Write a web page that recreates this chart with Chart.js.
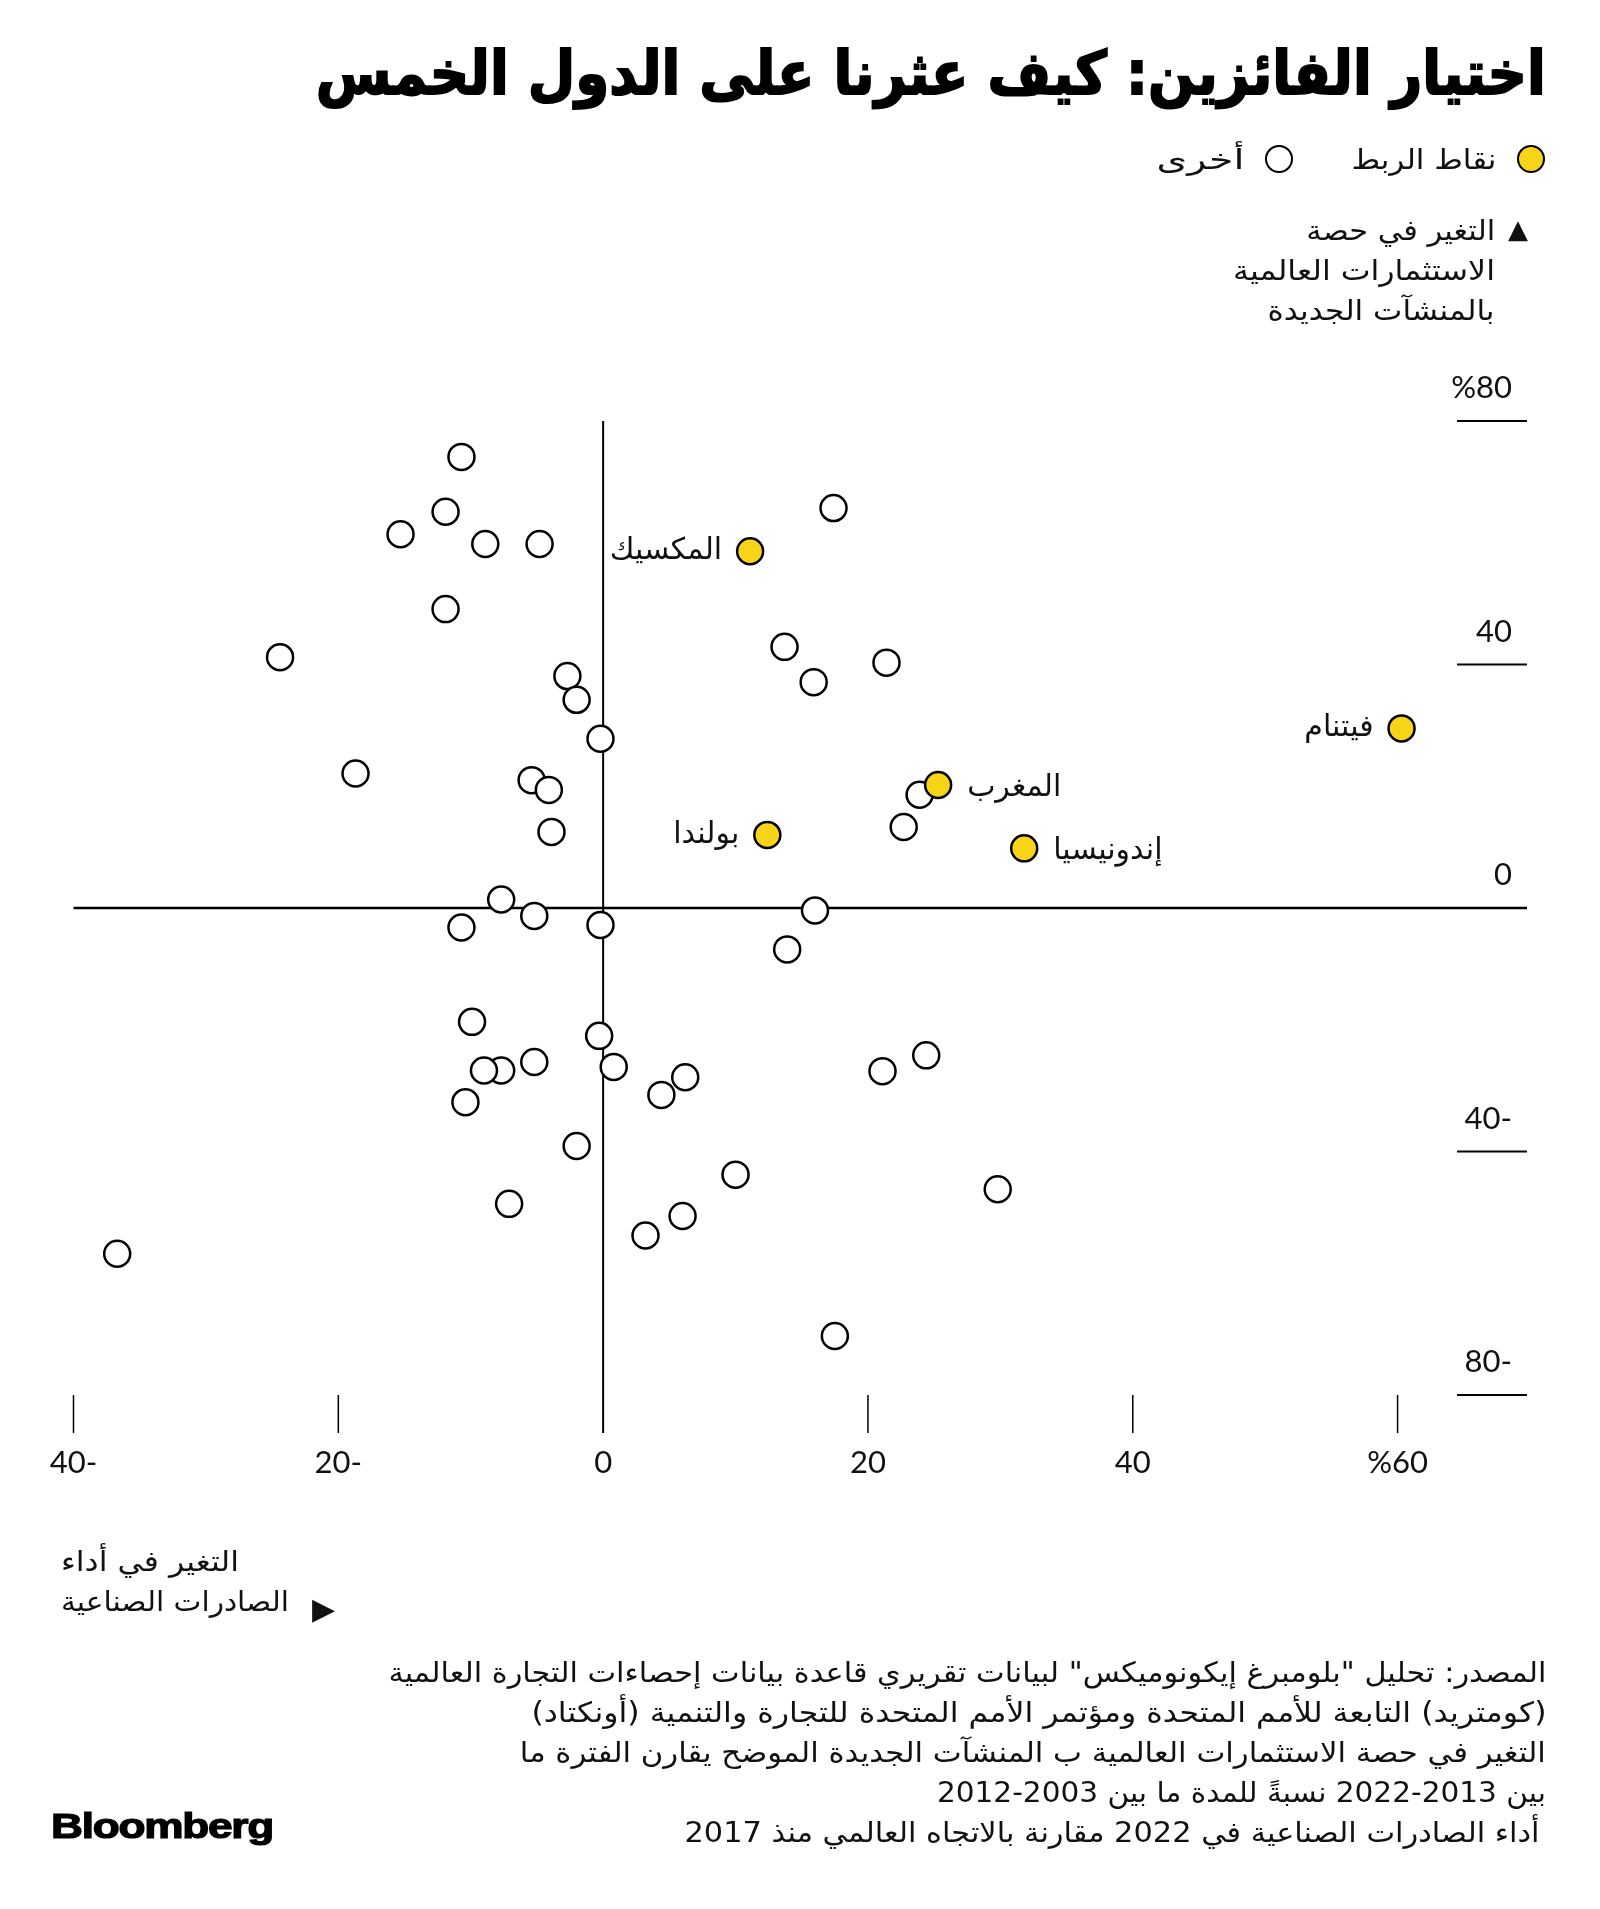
<!DOCTYPE html>
<html lang="ar">
<head>
<meta charset="utf-8">
<script src="https://cdn.jsdelivr.net/npm/chart.js@4.4.1/dist/chart.umd.min.js"></script>
<style>
  html, body { margin: 0; padding: 0; background: #fff; }
  body { width: 1600px; height: 1909px; position: relative; overflow: hidden; font-family: "DejaVu Sans", sans-serif; color: #111; }
  canvas { position: absolute; left: 0; top: 0; }
  .t { position: absolute; white-space: nowrap; direction: rtl; line-height: 40px; font-size: 28px; }
  .r { transform-origin: right center; }
  .l { transform-origin: left center; }
  .dot { position: absolute; border-radius: 50%; border: 2px solid #000; box-sizing: border-box; }
</style>
</head>
<body>
<canvas id="chart" width="1600" height="1909"></canvas>

<div class="t r fit" data-w="1230" style="right:54px; top:33px; font-size:60px; line-height:80px; font-weight:bold; -webkit-text-stroke:2px #000; color:#000;">اختيار الفائزين: كيف عثرنا على الدول الخمس</div>

<div class="dot" style="left:1517px; top:145px; width:28px; height:28px; background:#f7d417;"></div>
<div class="t r fit" data-w="145" style="right:104px; top:140px;">نقاط الربط</div>
<div class="dot" style="left:1265px; top:145px; width:28px; height:28px; background:#fff;"></div>
<div class="t r fit" data-w="88" style="right:356px; top:140px;">أخرى</div>

<div style="position:absolute; left:1508px; top:214px; font-size:26px; line-height:30px;">▲</div>
<div class="t r fit" data-w="189" style="right:105px; top:211px;">التغير في حصة</div>
<div class="t r fit" data-w="262" style="right:105px; top:251px;">الاستثمارات العالمية</div>
<div class="t r fit" data-w="227" style="right:105px; top:291px;">بالمنشآت الجديدة</div>

<div class="t l fit" data-w="178" style="left:61px; top:1542px;">التغير في أداء</div>
<div class="t l fit" data-w="228" style="left:61px; top:1582px;">الصادرات الصناعية</div>
<div style="position:absolute; left:312px; top:1592px; font-size:30px; line-height:34px;">▶</div>

<div class="t r fit" data-w="1158" style="right:54px; top:1653px;">المصدر: تحليل "بلومبرغ إيكونوميكس" لبيانات تقريري قاعدة بيانات إحصاءات التجارة العالمية</div>
<div class="t r fit" data-w="1015" style="right:54px; top:1693px;">(كومتريد) التابعة للأمم المتحدة ومؤتمر الأمم المتحدة للتجارة والتنمية (أونكتاد)</div>
<div class="t r fit" data-w="1026" style="right:54px; top:1733px;">التغير في حصة الاستثمارات العالمية ب المنشآت الجديدة الموضح يقارن الفترة ما</div>
<div class="t r fit" data-w="609" style="right:54px; top:1773px;">بين 2013-2022 نسبةً للمدة ما بين 2003-2012</div>
<div class="t r fit" data-w="855" style="right:61px; top:1813px;">أداء الصادرات الصناعية في 2022 مقارنة بالاتجاه العالمي منذ 2017</div>

<div class="t l fit" data-w="222" style="left:51px; top:1806px; direction:ltr; font-family:'Liberation Sans', Arial, sans-serif; font-weight:bold; font-size:35px; letter-spacing:-1px; -webkit-text-stroke:1.2px #000; color:#000;">Bloomberg</div>

<script>
// "linking" economies (yellow) and the rest (white)
const linkNames = ['المكسيك', 'فيتنام', 'المغرب', 'بولندا', 'إندونيسيا'];
const linkX = [11.1, 60.3, 25.3, 12.4, 31.8];
const linkY = [58.6, 29.5, 20.2, 12.0, 9.8];

const otherX = [-10.7, -11.9, -15.3, -8.9, -4.8, 17.4, -11.9, -24.4, 13.7, 21.4,
  -2.7, -2.0, 15.9, -0.2, -18.7, -5.4, -4.1, -3.9, 23.9, 22.7,
  -7.7, -5.2, -10.7, -0.2, 16.0, 13.9, -9.9, -0.3, -5.2, -7.7,
  -9.0, 0.8, 6.2, 4.4, -10.4, 21.1, 24.4, -2.0, 10.0, -7.1,
  6.0, 3.2, -36.7, 29.8, 17.5];
const otherY = [74.1, 65.1, 61.4, 59.8, 59.8, 65.7, 49.1, 41.2, 42.9, 40.3,
  38.1, 34.2, 37.1, 27.8, 22.1, 21.0, 19.4, 12.5, 18.6, 13.3,
  1.4, -1.3, -3.2, -2.8, -0.4, -6.8, -18.7, -21.0, -25.3, -26.7,
  -26.7, -26.1, -27.8, -30.7, -31.9, -26.8, -24.2, -39.1, -43.8, -48.6,
  -50.6, -53.8, -56.8, -46.2, -70.3];

const xTicks = [-40, -20, 0, 20, 40, 60];
const xTickLabels = ['40-', '20-', '0', '20', '40', '%60'];
const yTicks = [80, 40, 0, -40, -80];
const yTickLabels = ['%80', '40', '0', '40-', '80-'];

const toPoints = (xs, ys) => xs.map((x, i) => ({ x: x, y: ys[i] }));

// which side of the dot each country name sits on
const labelSide = { 'المكسيك': 'left', 'فيتنام': 'left', 'بولندا': 'left', 'المغرب': 'right', 'إندونيسيا': 'right' };

const axesPlugin = {
  id: 'axesPlugin',
  beforeDatasetsDraw(chart) {
    const { ctx, chartArea } = chart;
    const xs = chart.scales.x, ys = chart.scales.y;
    const x0 = xs.getPixelForValue(0), y0 = ys.getPixelForValue(0);
    const yBottom = ys.getPixelForValue(-80);
    const right = chartArea.right - 3;
    ctx.save();
    ctx.strokeStyle = '#000';
    // zero lines
    ctx.lineWidth = 2.5;
    ctx.beginPath();
    ctx.moveTo(xs.getPixelForValue(-40), y0);
    ctx.lineTo(right, y0);
    ctx.stroke();
    ctx.lineWidth = 2;
    ctx.beginPath();
    ctx.moveTo(x0, ys.getPixelForValue(80));
    ctx.lineTo(x0, yBottom + 38);
    ctx.stroke();
    // x ticks
    ctx.lineWidth = 1.5;
    xTicks.forEach(v => {
      if (v === 0) return;
      const px = xs.getPixelForValue(v);
      ctx.beginPath();
      ctx.moveTo(px, yBottom);
      ctx.lineTo(px, yBottom + 38);
      ctx.stroke();
    });
    // y ticks, short lines at the right
    ctx.lineWidth = 2;
    yTicks.forEach(v => {
      if (v === 0) return;
      const py = ys.getPixelForValue(v);
      ctx.beginPath();
      ctx.moveTo(right - 70, py);
      ctx.lineTo(right, py);
      ctx.stroke();
    });
    ctx.restore();
  },
  afterDatasetsDraw(chart) {
    const { ctx, chartArea } = chart;
    const xs = chart.scales.x, ys = chart.scales.y;
    const yBottom = ys.getPixelForValue(-80);
    ctx.save();
    ctx.fillStyle = '#111';
    ctx.font = '31px Lato, "DejaVu Sans", sans-serif';
    ctx.direction = 'ltr';
    ctx.textBaseline = 'middle';
    ctx.textAlign = 'right';
    yTicks.forEach((v, i) => {
      ctx.fillText(yTickLabels[i], chartArea.right - 18, ys.getPixelForValue(v) - 33);
    });
    ctx.textAlign = 'center';
    xTicks.forEach((v, i) => {
      ctx.fillText(xTickLabels[i], xs.getPixelForValue(v), yBottom + 68);
    });
    // country names
    ctx.font = '30px "DejaVu Sans", sans-serif';
    ctx.direction = 'rtl';
    linkNames.forEach((name, i) => {
      const px = xs.getPixelForValue(linkX[i]);
      const py = ys.getPixelForValue(linkY[i]);
      if (labelSide[name] === 'left') {
        ctx.textAlign = 'right';
        ctx.fillText(name, px - 28, py);
      } else {
        ctx.textAlign = 'left';
        ctx.fillText(name, px + 29, py + 3);
      }
    });
    ctx.restore();
  }
};

new Chart(document.getElementById('chart'), {
  type: 'scatter',
  data: {
    datasets: [
      {
        label: 'نقاط الربط',
        data: toPoints(linkX, linkY),
        backgroundColor: '#f7d417',
        borderColor: '#000',
        borderWidth: 2.5,
        pointRadius: 13,
        clip: false
      },
      {
        label: 'أخرى',
        data: toPoints(otherX, otherY),
        backgroundColor: '#fff',
        borderColor: '#000',
        borderWidth: 2.5,
        pointRadius: 13,
        clip: false
      }
    ]
  },
  options: {
    responsive: false,
    animation: false,
    events: [],
    layout: { padding: { left: 73.5, right: 70, top: 421, bottom: 514 } },
    plugins: { legend: { display: false }, tooltip: { enabled: false } },
    scales: {
      x: { type: 'linear', display: false, min: -40, max: 70 },
      y: { type: 'linear', display: false, min: -80, max: 80 }
    }
  },
  plugins: [axesPlugin]
});

// squeeze text blocks to the widths seen in the original
document.querySelectorAll('.fit').forEach(el => {
  const w = el.getBoundingClientRect().width;
  el.style.transform = 'scaleX(' + (Number(el.dataset.w) / w) + ')';
});
</script>
</body>
</html>
